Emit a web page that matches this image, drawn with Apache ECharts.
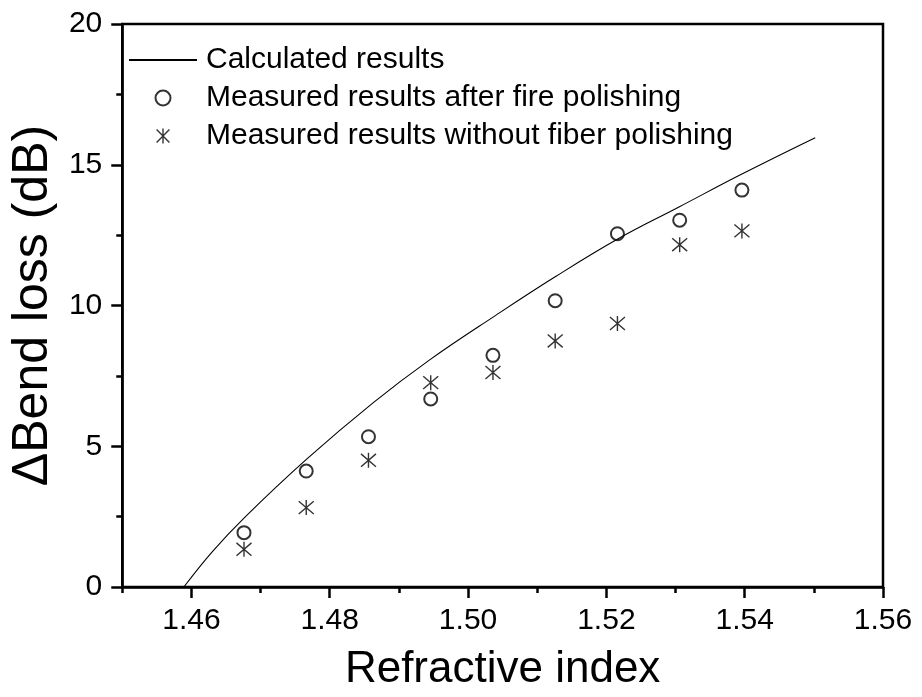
<!DOCTYPE html>
<html>
<head>
<meta charset="utf-8">
<script src="https://cdn.jsdelivr.net/npm/echarts@6/dist/echarts.min.js"></script>
<style>html,body{margin:0;padding:0;background:#fff}#c{width:922px;height:697px}</style>
</head>
<body>
<div id="c"></div>
<script>
// Calculated results curve
var calcX = [1.4589, 1.4630, 1.4676, 1.4767, 1.4863, 1.4944, 1.5040, 1.5126, 1.5217, 1.5305, 1.5396, 1.5502];
var calcY = [0, 1.25, 2.45, 4.55, 6.55, 8.06, 9.65, 11.02, 12.37, 13.50, 14.67, 15.96];
// Measured points
var measX = [1.4676, 1.4766, 1.4856, 1.4946, 1.5036, 1.5126, 1.5216, 1.5306, 1.5396];
var fireY = [1.93, 4.12, 5.34, 6.68, 8.23, 10.17, 12.55, 13.03, 14.10];
var noPolY = [1.34, 2.82, 4.50, 7.26, 7.62, 8.74, 9.36, 12.16, 12.65];
var xMajor = [1.46, 1.48, 1.50, 1.52, 1.54, 1.56];
var xMinor = [1.45, 1.47, 1.49, 1.51, 1.53, 1.55];
var names = ['Calculated results', 'Measured results after fire polishing', 'Measured results without fiber polishing'];

function zip(a, b) { return a.map(function (v, i) { return [v, b[i]]; }); }
var FONT = '"Liberation Sans", Arial, sans-serif';
var star = 'path://M7 0L7 14M1 1L13 13M1 13L13 1';

var chart = echarts.init(document.getElementById('c'), null, { renderer: 'canvas' });
chart.setOption({
  animation: false,
  backgroundColor: '#fff',
  grid: { left: 117, right: 39, top: 24, bottom: 110, show: true, borderColor: '#000', borderWidth: 2.5, backgroundColor: 'transparent' },
  legend: {
    orient: 'vertical', left: 128, top: 45, padding: 0, itemWidth: 68, itemHeight: 15, itemGap: 8,
    textStyle: { fontFamily: FONT, fontSize: 30, color: '#000', lineHeight: 30, padding: [0, 0, 0, 4] },
    data: [
      { name: names[0], itemStyle: { opacity: 0 } },
      { name: names[1], icon: 'emptyCircle', itemStyle: { color: '#000', borderColor: '#000', borderWidth: 1.3 } },
      { name: names[2], icon: star, itemStyle: { color: '#000', borderColor: '#000', borderWidth: 1.4 } }
    ]
  },
  xAxis: [{
    type: 'value', min: 1.45, max: 1.56, interval: 0.01, position: 'bottom',
    axisLine: { show: true, lineStyle: { color: '#000', width: 2.5 } },
    axisTick: { show: true, inside: false, length: 11, lineStyle: { color: '#000', width: 2.5 }, customValues: xMajor },
    axisLabel: { color: '#000', fontSize: 30, fontFamily: FONT, margin: 19, customValues: xMajor, formatter: function (v) { return v.toFixed(2); } },
    splitLine: { show: false },
    name: 'Refractive index', nameLocation: 'middle', nameGap: 61,
    nameTextStyle: { color: '#000', fontSize: 44, fontFamily: FONT }
  }, {
    type: 'value', min: 1.45, max: 1.56, interval: 0.01, position: 'bottom', gridIndex: 0,
    axisLine: { show: false },
    axisTick: { show: true, inside: false, length: 6, lineStyle: { color: '#000', width: 2.5 }, customValues: xMinor },
    axisLabel: { show: false },
    splitLine: { show: false }
  }],
  yAxis: {
    type: 'value', min: 0, max: 20, interval: 5,
    axisLine: { show: true, lineStyle: { color: '#000', width: 2.5 } },
    axisTick: { show: true, inside: false, length: 11, lineStyle: { color: '#000', width: 2.5 } },
    minorTick: { show: true, splitNumber: 2, length: 6, lineStyle: { color: '#000', width: 2.5 } },
    axisLabel: { color: '#000', fontSize: 30, fontFamily: FONT, margin: 20 },
    splitLine: { show: false },
    name: 'ΔBend loss (dB)', nameLocation: 'middle', nameGap: 56, nameRotate: 90,
    nameTextStyle: { color: '#000', fontSize: 50, fontFamily: FONT }
  },
  series: [{
    name: names[0], type: 'line', data: zip(calcX, calcY), smooth: 0.4, symbol: 'none',
    lineStyle: { color: '#000', width: 1.1 }, itemStyle: { color: '#000' }, z: 3
  }, {
    name: names[1], type: 'scatter', data: zip(measX, fireY), symbol: 'emptyCircle', symbolSize: 13,
    itemStyle: { color: '#000', borderColor: '#000', borderWidth: 1.3 }
  }, {
    name: names[2], type: 'scatter', data: zip(measX, noPolY), symbol: star, symbolSize: 15,
    itemStyle: { color: '#000', borderColor: '#000', borderWidth: 1.4 }
  }]
});
</script>
</body>
</html>
